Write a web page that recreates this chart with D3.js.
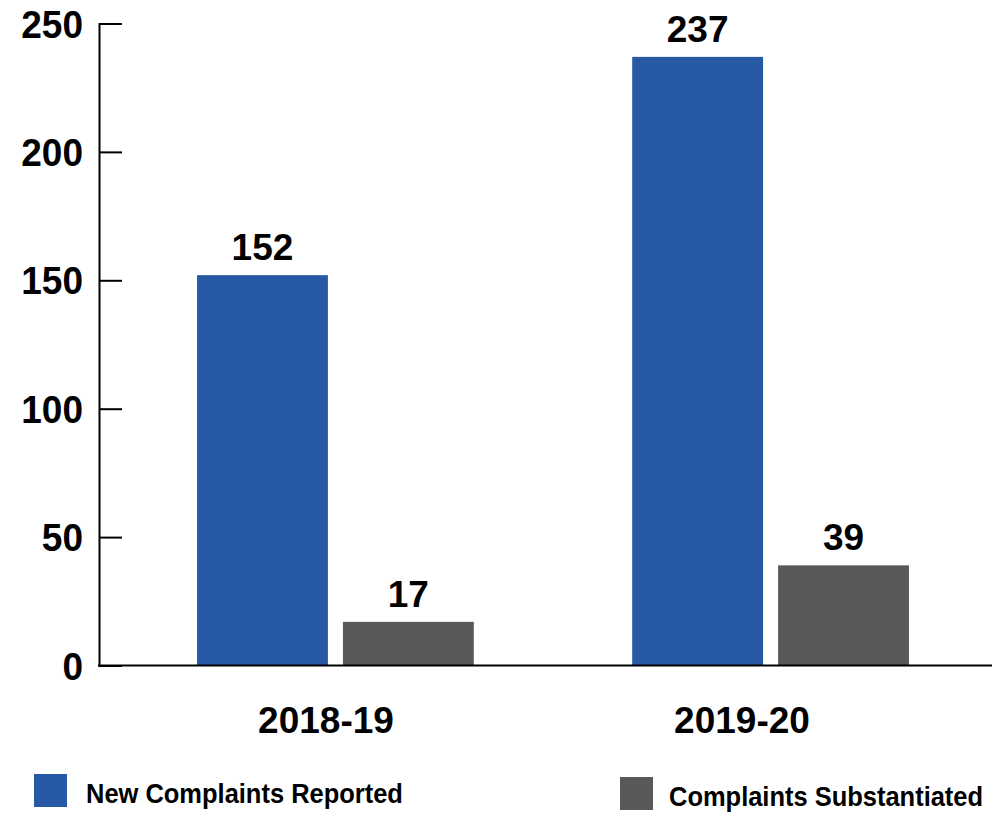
<!DOCTYPE html>
<html>
<head>
<meta charset="utf-8">
<script src="https://cdn.jsdelivr.net/npm/d3@7"></script>
<style>
  html, body { margin: 0; padding: 0; background: #fff; }
  svg { display: block; }
  .num { font-family: "Liberation Sans", Arial, sans-serif; font-weight: bold; }
</style>
</head>
<body>
<svg id="chart" width="992" height="814"></svg>
<script>
const categories = ["2018-19", "2019-20"];
const seriesNames = ["New Complaints Reported", "Complaints Substantiated"];
const newReported = [152, 237];
const substantiated = [17, 39];
const yTicks = [0, 50, 100, 150, 200, 250];
const colors = ["#2759A5", "#595959"];

const data = categories.map((c, i) => ({
  cat: c,
  values: [
    { key: seriesNames[0], value: newReported[i] },
    { key: seriesNames[1], value: substantiated[i] }
  ]
}));

const svg = d3.select("#chart");
const axisX = 99;
const y = d3.scaleLinear().domain([0, 250]).range([665.5, 23.5]);
const x0 = d3.scaleBand().domain(categories).range([110, 996]).paddingInner(0.364).paddingOuter(0.2);
const x1 = d3.scaleBand().domain(seriesNames).range([0, x0.bandwidth()]).paddingInner(0.103);
const color = d3.scaleOrdinal().domain(seriesNames).range(colors);

// Y axis
const yAxis = d3.axisRight(y).tickValues(yTicks).tickSize(23).tickFormat("");
const yg = svg.append("g").attr("transform", `translate(${axisX},0)`).call(yAxis);
yg.select(".domain").attr("stroke", "#000").attr("stroke-width", 2);
yg.selectAll(".tick line").attr("stroke", "#000").attr("stroke-width", 2);

svg.append("g").selectAll("text").data(yTicks).join("text")
  .attr("class", "num")
  .attr("text-anchor", "end")
  .attr("font-size", 39)
  .attr("fill", "#000")
  .attr("transform", d => `translate(${axisX - 16},${y(d)}) scale(0.95,1)`)
  .attr("dy", "0.36em")
  .text(d => d);

// Bars
const groups = svg.append("g").selectAll("g").data(data).join("g")
  .attr("transform", d => `translate(${x0(d.cat)},0)`);

groups.selectAll("rect").data(d => d.values).join("rect")
  .attr("x", d => x1(d.key))
  .attr("y", d => y(d.value))
  .attr("width", x1.bandwidth())
  .attr("height", d => y(0) - y(d.value))
  .attr("fill", d => color(d.key));

groups.selectAll("text").data(d => d.values).join("text")
  .attr("class", "num")
  .attr("x", d => x1(d.key) + x1.bandwidth() / 2)
  .attr("y", d => y(d.value) - 15)
  .attr("text-anchor", "middle")
  .attr("font-size", 37)
  .attr("fill", "#000")
  .text(d => d.value);

// Baseline
svg.append("line")
  .attr("x1", axisX - 1).attr("x2", 992)
  .attr("y1", y(0)).attr("y2", y(0))
  .attr("stroke", "#000").attr("stroke-width", 2);

// Category labels
const catLabelX = d3.scaleOrdinal().domain(categories).range([326, 742]);
svg.append("g").selectAll("text").data(categories).join("text")
  .attr("class", "num")
  .attr("x", d => catLabelX(d))
  .attr("y", 733)
  .attr("text-anchor", "middle")
  .attr("font-size", 37)
  .attr("fill", "#000")
  .text(d => d);

// Legend
const legendPos = [{ sx: 34, sy: 774, tx: 86, ty: 803 }, { sx: 620, sy: 777, tx: 669, ty: 806 }];
const lg = svg.append("g").selectAll("g").data(seriesNames).join("g");
lg.append("rect")
  .attr("x", (d, i) => legendPos[i].sx)
  .attr("y", (d, i) => legendPos[i].sy)
  .attr("width", 33).attr("height", 33)
  .attr("fill", d => color(d));
lg.append("text")
  .attr("class", "num")
  .attr("transform", (d, i) => `translate(${legendPos[i].tx},${legendPos[i].ty}) scale(0.91,1)`)
  .attr("font-size", 28)
  .attr("fill", "#000")
  .text(d => d);
</script>
</body>
</html>
